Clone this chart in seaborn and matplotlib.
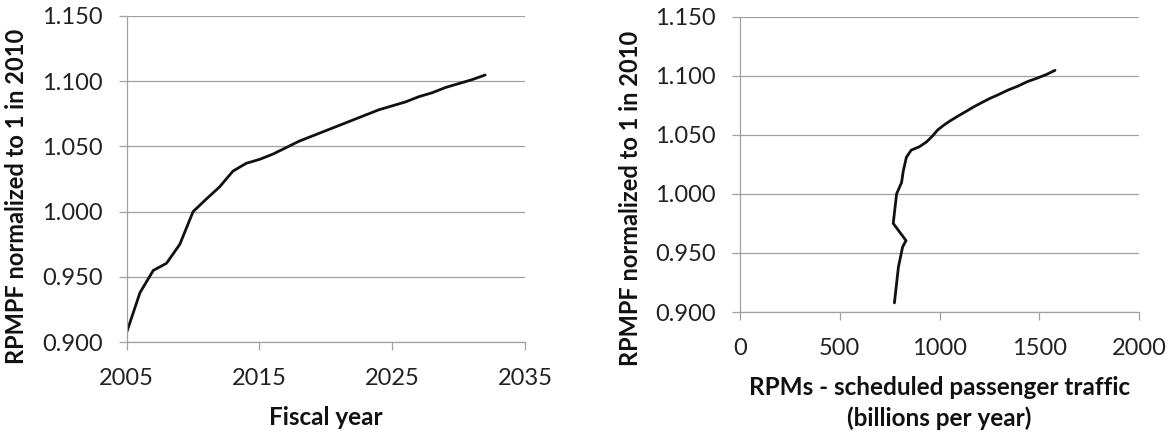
import matplotlib
matplotlib.use("Agg")
import matplotlib.pyplot as plt
import seaborn as sns
import pandas as pd

years = list(range(2005, 2033))
rpmpf = [0.9077, 0.938, 0.955, 0.9605, 0.975, 1.000, 1.0097, 1.019, 1.031, 1.037,
         1.040, 1.044, 1.049, 1.054, 1.058, 1.062, 1.066, 1.070, 1.074, 1.078,
         1.081, 1.084, 1.088, 1.091, 1.095, 1.098, 1.101, 1.1046]
rpms = [774, 794, 815, 832, 768, 785, 810, 818, 834, 858,
        900, 935, 965, 990, 1020, 1055, 1094, 1135, 1175, 1220,
        1255, 1295, 1345, 1390, 1440, 1490, 1535, 1579]

left_xticks = [2005, 2015, 2025, 2035]
right_xticks = [0, 500, 1000, 1500, 2000]
yticks = [0.900, 0.950, 1.000, 1.050, 1.100, 1.150]

df = pd.DataFrame({"year": years, "rpmpf": rpmpf, "rpms": rpms})

sns.set_theme(style="white")
plt.rcParams['font.family'] = ['Lato', 'DejaVu Sans']

W, H = 1175, 436
fig = plt.figure(figsize=(W / 100, H / 100), dpi=100)
L1 = (126.7, 15.7, 525.0, 342.3)
L2 = (740.0, 16.7, 1139.0, 312.0)


def add_ax(b):
    x0, y0, x1, y1 = b
    return fig.add_axes([x0 / W, 1 - y1 / H, (x1 - x0) / W, (y1 - y0) / H])


ax1 = add_ax(L1)
ax2 = add_ax(L2)

grid_c = "#a0a0a0"
tick_fs = 17
ylab_fs = 17
xlab_fs = 17.5
line_c = "#111111"

sns.lineplot(data=df, x="year", y="rpmpf", ax=ax1, color=line_c, linewidth=2.0, sort=False)
sns.lineplot(data=df, x="rpms", y="rpmpf", ax=ax2, color=line_c, linewidth=2.0, sort=False)

for ax, xt in ((ax1, left_xticks), (ax2, right_xticks)):
    ax.set_xlim(xt[0], xt[-1])
    ax.set_ylim(0.9, 1.15)
    ax.set_xticks(xt)
    ax.set_xticklabels([str(v) for v in xt], fontsize=tick_fs, color="#222222")
    ax.set_yticks(yticks)
    ax.set_yticklabels([f"{v:.3f}" for v in yticks], fontsize=tick_fs, color="#222222")
    ax.yaxis.grid(True, color=grid_c, linewidth=0.9)
    ax.xaxis.grid(False)
    for s in ("top", "right"):
        ax.spines[s].set_visible(False)
    for s in ("left", "bottom"):
        ax.spines[s].set_color(grid_c)
        ax.spines[s].set_linewidth(0.9)
    ax.tick_params(axis="both", which="major", direction="out", length=6, width=0.9,
                   color=grid_c, bottom=True, left=True)
    ax.tick_params(axis="x", pad=12.5)
    ax.tick_params(axis="y", pad=11.5)
    ax.set_ylabel("RPMPF normalized to 1 in 2010", fontsize=ylab_fs, fontweight="bold",
                  color="#111111")
    ax.yaxis.label.set_verticalalignment("center")

ax1.yaxis.set_label_coords((17 - L1[0]) / (L1[2] - L1[0]), 1 - (196 - L1[1]) / (L1[3] - L1[1]))
ax2.yaxis.set_label_coords((631 - L2[0]) / (L2[2] - L2[0]), 1 - (198 - L2[1]) / (L2[3] - L2[1]))

ax1.set_xlabel("Fiscal year", fontsize=xlab_fs, fontweight="bold", color="#111111",
               va="baseline")
ax1.xaxis.set_label_coords(0.5, (L1[3] - 425) / (L1[3] - L1[1]))
ax2.set_xlabel("RPMs - scheduled passenger traffic\n(billions per year)", fontsize=xlab_fs,
               fontweight="bold", color="#111111", linespacing=1.38, va="baseline")
ax2.xaxis.set_label_coords(0.5, (L2[3] - 426) / (L2[3] - L2[1]))

fig.savefig("out.png", dpi=100, facecolor="white")
